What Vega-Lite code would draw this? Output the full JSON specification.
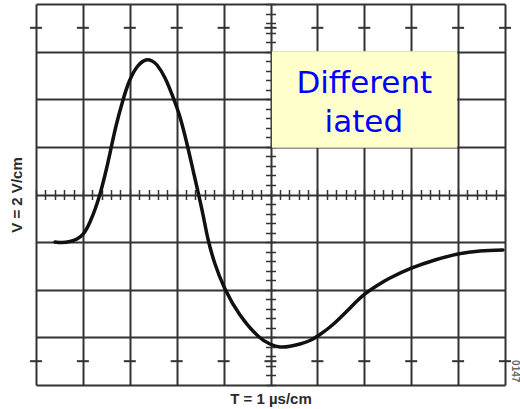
{
  "$schema": "https://vega.github.io/schema/vega-lite/v6.json",
  "width": 469,
  "height": 381,
  "autosize": {"type": "none"},
  "padding": {"left": 36, "top": 4, "right": 15, "bottom": 24},
  "background": "white",
  "config": {"view": {"stroke": null}},
  "resolve": {"axis": {"x": "independent", "y": "independent"}},
  "layer": [
    {
      "data": {"values": [{}]},
      "mark": {"type": "rect", "fill": "#ffffcc"},
      "encoding": {
        "x": {"datum": 5.03, "type": "quantitative", "scale": {"domain": [0, 10], "nice": false, "zero": false}, "axis": null},
        "x2": {"datum": 8.98},
        "y": {"datum": 3.01, "type": "quantitative", "scale": {"domain": [-4, 4], "nice": false, "zero": false}, "axis": null},
        "y2": {"datum": 0.98}
      }
    },
    {
      "data": {"values": [{"label": "Different"}]},
      "mark": {"type": "text", "font": "DejaVu Sans", "fontSize": 31, "color": "#0000ff", "align": "center", "baseline": "alphabetic"},
      "encoding": {
        "x": {"datum": 7.0, "type": "quantitative", "axis": null},
        "y": {"datum": 2.13, "type": "quantitative", "axis": null},
        "text": {"field": "label"}
      }
    },
    {
      "data": {"values": [{"label": "iated"}]},
      "mark": {"type": "text", "font": "DejaVu Sans", "fontSize": 31, "color": "#0000ff", "align": "center", "baseline": "alphabetic"},
      "encoding": {
        "x": {"datum": 6.99, "type": "quantitative", "axis": null},
        "y": {"datum": 1.31, "type": "quantitative", "axis": null},
        "text": {"field": "label"}
      }
    },
    {
      "data": {"values": [{"label": "0147"}]},
      "mark": {"type": "text", "font": "Liberation Sans", "fontSize": 10, "fontWeight": "bold", "color": "#666666", "align": "center", "baseline": "middle", "angle": 90},
      "encoding": {
        "x": {"datum": 10.21, "type": "quantitative", "axis": null},
        "y": {"datum": -3.71, "type": "quantitative", "axis": null},
        "text": {"field": "label"}
      }
    },
    {
      "data": {"values": [{"t": 0}, {"t": 1}, {"t": 2}, {"t": 3}, {"t": 4}, {"t": 5}, {"t": 6}, {"t": 7}, {"t": 8}, {"t": 9}, {"t": 10}]},
      "mark": {"type": "tick", "orient": "horizontal", "size": 12, "thickness": 2, "color": "#333333", "opacity": 1},
      "encoding": {
        "x": {"field": "t", "type": "quantitative", "scale": {"domain": [0, 10], "nice": false, "zero": false},
          "axis": {"orient": "top", "offset": -190.5, "values": [0,0.2,0.4,0.6,0.8,1,1.2,1.4,1.6,1.8,2,2.2,2.4,2.6,2.8,3,3.2,3.4,3.6,3.8,4,4.2,4.4,4.6,4.8,5,5.2,5.4,5.6,5.8,6,6.2,6.4,6.6,6.8,7,7.2,7.4,7.6,7.8,8,8.2,8.4,8.6,8.8,9,9.2,9.4,9.6,9.8,10],
            "ticks": true, "tickSize": 5, "tickWidth": 1.5, "tickColor": "#333333", "labels": false, "domain": false, "grid": false, "title": null}},
        "y": {"datum": 3.5, "type": "quantitative", "scale": {"domain": [-4, 4], "nice": false, "zero": false},
          "axis": {"orient": "left", "offset": -234.5, "values": [-4,-3.8,-3.6,-3.4,-3.2,-3,-2.8,-2.6,-2.4,-2.2,-2,-1.8,-1.6,-1.4,-1.2,-1,-0.8,-0.6,-0.4,-0.2,0,0.2,0.4,0.6,0.8,1,1.2,1.4,1.6,1.8,2,2.2,2.4,2.6,2.8,3,3.2,3.4,3.6,3.8,4],
            "ticks": true, "tickSize": 5, "tickWidth": 1.5, "tickColor": "#333333", "labels": false, "domain": false, "grid": false, "title": null}}
      }
    },
    {
      "data": {"values": [{"t": 0}, {"t": 1}, {"t": 2}, {"t": 3}, {"t": 4}, {"t": 5}, {"t": 6}, {"t": 7}, {"t": 8}, {"t": 9}, {"t": 10}]},
      "mark": {"type": "tick", "orient": "horizontal", "size": 12, "thickness": 2, "color": "#333333", "opacity": 1},
      "encoding": {
        "x": {"field": "t", "type": "quantitative", "scale": {"domain": [0, 10], "nice": false, "zero": false},
          "axis": {"orient": "bottom", "offset": -190.5, "values": [0,0.2,0.4,0.6,0.8,1,1.2,1.4,1.6,1.8,2,2.2,2.4,2.6,2.8,3,3.2,3.4,3.6,3.8,4,4.2,4.4,4.6,4.8,5,5.2,5.4,5.6,5.8,6,6.2,6.4,6.6,6.8,7,7.2,7.4,7.6,7.8,8,8.2,8.4,8.6,8.8,9,9.2,9.4,9.6,9.8,10],
            "ticks": true, "tickSize": 5, "tickWidth": 1.5, "tickColor": "#333333", "labels": false, "domain": false, "grid": false, "title": null}},
        "y": {"datum": -3.5, "type": "quantitative", "scale": {"domain": [-4, 4], "nice": false, "zero": false},
          "axis": {"orient": "right", "offset": -234.5, "values": [-4,-3.8,-3.6,-3.4,-3.2,-3,-2.8,-2.6,-2.4,-2.2,-2,-1.8,-1.6,-1.4,-1.2,-1,-0.8,-0.6,-0.4,-0.2,0,0.2,0.4,0.6,0.8,1,1.2,1.4,1.6,1.8,2,2.2,2.4,2.6,2.8,3,3.2,3.4,3.6,3.8,4],
            "ticks": true, "tickSize": 5, "tickWidth": 1.5, "tickColor": "#333333", "labels": false, "domain": false, "grid": false, "title": null}}
      }
    },
    {
      "data": {"values": [
        {"t": 0.405, "v": -0.997}, {"t": 0.554, "v": -1.008}, {"t": 0.725, "v": -0.987}, {"t": 0.874, "v": -0.934},
        {"t": 1.023, "v": -0.808}, {"t": 1.151, "v": -0.577}, {"t": 1.258, "v": -0.315}, {"t": 1.365, "v": 0.010},
        {"t": 1.471, "v": 0.409}, {"t": 1.578, "v": 0.871}, {"t": 1.706, "v": 1.438}, {"t": 1.855, "v": 1.984},
        {"t": 1.983, "v": 2.362}, {"t": 2.154, "v": 2.677}, {"t": 2.345, "v": 2.824}, {"t": 2.473, "v": 2.803},
        {"t": 2.580, "v": 2.719}, {"t": 2.751, "v": 2.446}, {"t": 2.921, "v": 2.047}, {"t": 3.070, "v": 1.627},
        {"t": 3.230, "v": 1.018}, {"t": 3.348, "v": 0.514}, {"t": 3.465, "v": 0.010}, {"t": 3.571, "v": -0.472},
        {"t": 3.667, "v": -0.934}, {"t": 3.817, "v": -1.460}, {"t": 4.030, "v": -1.984}, {"t": 4.350, "v": -2.530},
        {"t": 4.733, "v": -2.971}, {"t": 4.989, "v": -3.139}, {"t": 5.203, "v": -3.202}, {"t": 5.416, "v": -3.187},
        {"t": 5.629, "v": -3.139}, {"t": 5.842, "v": -3.066}, {"t": 6.055, "v": -2.940}, {"t": 6.269, "v": -2.782},
        {"t": 6.482, "v": -2.593}, {"t": 6.738, "v": -2.341}, {"t": 7.015, "v": -2.089}, {"t": 7.292, "v": -1.900},
        {"t": 7.548, "v": -1.753}, {"t": 8.017, "v": -1.543}, {"t": 8.507, "v": -1.375}, {"t": 8.998, "v": -1.249},
        {"t": 9.467, "v": -1.186}, {"t": 9.957, "v": -1.165}
      ]},
      "mark": {"type": "line", "color": "#111111", "strokeWidth": 3.5, "interpolate": "natural", "strokeCap": "round"},
      "encoding": {
        "x": {"field": "t", "type": "quantitative", "scale": {"domain": [0, 10], "nice": false, "zero": false},
          "axis": {"orient": "bottom", "values": [0,1,2,3,4,5,6,7,8,9,10], "grid": true, "gridColor": "#333333", "gridWidth": 2, "gridOpacity": 1,
            "ticks": false, "labels": false, "domain": false,
            "title": "T = 1 µs/cm", "titleFont": "Liberation Sans", "titleFontSize": 15, "titleFontWeight": "bold", "titleColor": "#2a2a2a", "titlePadding": 6}},
        "y": {"field": "v", "type": "quantitative", "scale": {"domain": [-4, 4], "nice": false, "zero": false},
          "axis": {"orient": "left", "values": [-4,-3,-2,-1,0,1,2,3,4], "grid": true, "gridColor": "#333333", "gridWidth": 2, "gridOpacity": 1,
            "ticks": false, "labels": false, "domain": false,
            "title": "V = 2 V/cm", "titleFont": "Liberation Sans", "titleFontSize": 15, "titleFontWeight": "bold", "titleColor": "#2a2a2a", "titlePadding": 12}}
      }
    }
  ]
}
